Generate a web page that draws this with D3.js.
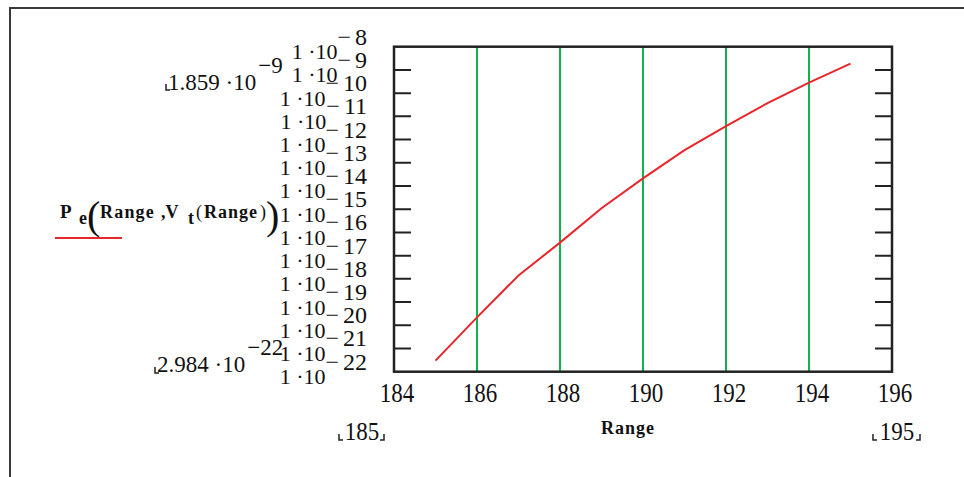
<!DOCTYPE html>
<html>
<head>
<meta charset="utf-8">
<script src="https://cdn.jsdelivr.net/npm/d3@7"></script>
<style>
  body { margin: 0; background: #fff; }
  svg { display: block; }
</style>
</head>
<body>
<script>
// data
const rangeVals = [185, 186, 187, 188, 189, 190, 191, 192, 193, 194, 195];
const peVals = [2.984e-22, 2.19e-20, 1.4e-18, 3.63e-17, 1.1e-15, 2.14e-14, 3.5e-13, 3.8e-12, 3.7e-11, 2.82e-10, 1.859e-9];
const xTickVals = [184, 186, 188, 190, 192, 194, 196];
const gridVals = [186, 188, 190, 192, 194];
const yTickExps = [-8, -9, -10, -11, -12, -13, -14, -15, -16, -17, -18, -19, -20, -21, -22];
const yLimitLabels = [["1.859", "9"], ["2.984", "22"]];
const xLimitLabels = ["185", "195"];

const width = 964, height = 477;
const serif = "'Liberation Serif', 'Times New Roman', serif";

const svg = d3.select("body").append("svg")
    .attr("width", width)
    .attr("height", height);

// outer region frame
svg.append("path")
    .attr("d", "M10,477 V8 H964")
    .attr("fill", "none")
    .attr("stroke", "#3a3a3a")
    .attr("stroke-width", 2);

const x = d3.scaleLinear().domain([184, 196]).range([394, 892]);
const y = d3.scaleLog().domain([1e-22, 1e-8]).range([371.7, 46.7]);

// green grid lines
svg.append("g")
    .attr("stroke", "#13b04f")
    .attr("stroke-width", 2)
    .selectAll("line")
    .data(gridVals)
    .join("line")
    .attr("x1", d => x(d)).attr("x2", d => x(d))
    .attr("y1", y(1e-8)).attr("y2", y(1e-22));

// inner ticks on both sides
const decades = yTickExps.map(e => Math.pow(10, e));
svg.append("g")
    .attr("stroke", "#222")
    .attr("stroke-width", 2)
    .selectAll("path")
    .data(decades.slice(1, -1))
    .join("path")
    .attr("d", d => `M${x(184)},${y(d)}h17M${x(196)},${y(d)}h-17`);

// box
svg.append("rect")
    .attr("x", x(184)).attr("y", y(1e-8))
    .attr("width", x(196) - x(184))
    .attr("height", y(1e-22) - y(1e-8))
    .attr("fill", "none")
    .attr("stroke", "#222")
    .attr("stroke-width", 2.5);

// curve
const line = d3.line()
    .x((d, i) => x(rangeVals[i]))
    .y(d => y(d));

svg.append("path")
    .datum(peVals)
    .attr("d", line)
    .attr("fill", "none")
    .attr("stroke", "#e8262b")
    .attr("stroke-width", 2);

// y tick labels, mathcad style 1 ·10^-n
const yLab = svg.append("g")
    .attr("font-family", serif)
    .attr("font-size", 22)
    .attr("fill", "#111");

yLab.selectAll("text")
    .data(yTickExps)
    .join("text")
    .attr("x", 367)
    .attr("y", d => y(Math.pow(10, d)) + 12.5)
    .attr("text-anchor", "end")
    .each(function (d) {
        const t = d3.select(this);
        t.append("tspan").text("1 \u00b710");
        t.append("tspan").attr("dy", -14.5).attr("font-size", 24).text("\u2212");
        t.append("tspan").attr("dx", 4).attr("font-size", 24).text(Math.abs(d));
    });

// x tick labels (mathcad numbers look a bit tall)
svg.append("g")
    .attr("font-family", serif)
    .attr("font-size", 23)
    .attr("fill", "#111")
    .attr("text-anchor", "middle")
    .selectAll("text")
    .data(xTickVals)
    .join("text")
    .attr("transform", d => `translate(${x(d) + 3},402) scale(1,1.15)`)
    .text(d => d);

// axis limit labels
const lim = svg.append("g")
    .attr("font-family", serif)
    .attr("font-size", 23)
    .attr("fill", "#111");

const yLimPos = [[168, 90], [157, 372]];
yLimitLabels.forEach((l, i) => {
    const t = lim.append("text").attr("x", yLimPos[i][0]).attr("y", yLimPos[i][1]);
    t.append("tspan").text(l[0] + " \u00b710");
    t.append("tspan").attr("dy", -17).attr("dx", 2).text("\u2212" + l[1]);
});

const xLimPos = [362, 897];
xLimitLabels.forEach((l, i) => {
    lim.append("text")
        .attr("transform", `translate(${xLimPos[i]},440) scale(1,1.1)`)
        .attr("text-anchor", "middle")
        .text(l);
});

// placeholder corner marks
const marks = [
    "M166,84v6h4", "M155,367v6h4",
    "M339,434v6h4", "M384,434v6h-4",
    "M873,434v6h4", "M920,434v6h-4"
];
svg.append("g")
    .attr("fill", "none")
    .attr("stroke", "#222")
    .attr("stroke-width", 1.5)
    .selectAll("path")
    .data(marks)
    .join("path")
    .attr("d", d => d);

// x axis title
svg.append("text")
    .attr("x", 628).attr("y", 434)
    .attr("text-anchor", "middle")
    .attr("font-family", serif)
    .attr("font-weight", "bold")
    .attr("font-size", 18)
    .attr("letter-spacing", 1)
    .attr("fill", "#111")
    .text("Range");

// legend: P e(Range ,V t(Range))
const leg = svg.append("g")
    .attr("font-family", serif)
    .attr("font-weight", "bold")
    .attr("font-size", 18)
    .attr("fill", "#111");

const legParts = [
    { t: "P", x: 60, y: 218, size: 19 },
    { t: "e", x: 79, y: 224 },
    { t: "(", x: 87, y: 229, size: 40, w: "normal" },
    { t: "Range", x: 100, y: 218, ls: 1.2 },
    { t: ",V", x: 161, y: 218 },
    { t: "t", x: 188, y: 224 },
    { t: "(", x: 196, y: 218, w: "normal" },
    { t: "Range", x: 204, y: 218, ls: 1 },
    { t: ")", x: 260, y: 218, w: "normal" },
    { t: ")", x: 266, y: 229, size: 40, w: "normal" }
];
leg.selectAll("text")
    .data(legParts)
    .join("text")
    .attr("x", d => d.x)
    .attr("y", d => d.y)
    .attr("font-size", d => d.size || 18)
    .attr("font-weight", d => d.w || "bold")
    .attr("letter-spacing", d => d.ls || 0)
    .text(d => d.t);

svg.append("line")
    .attr("x1", 55).attr("x2", 122)
    .attr("y1", 238).attr("y2", 238)
    .attr("stroke", "#e8262b")
    .attr("stroke-width", 2);
</script>
</body>
</html>
